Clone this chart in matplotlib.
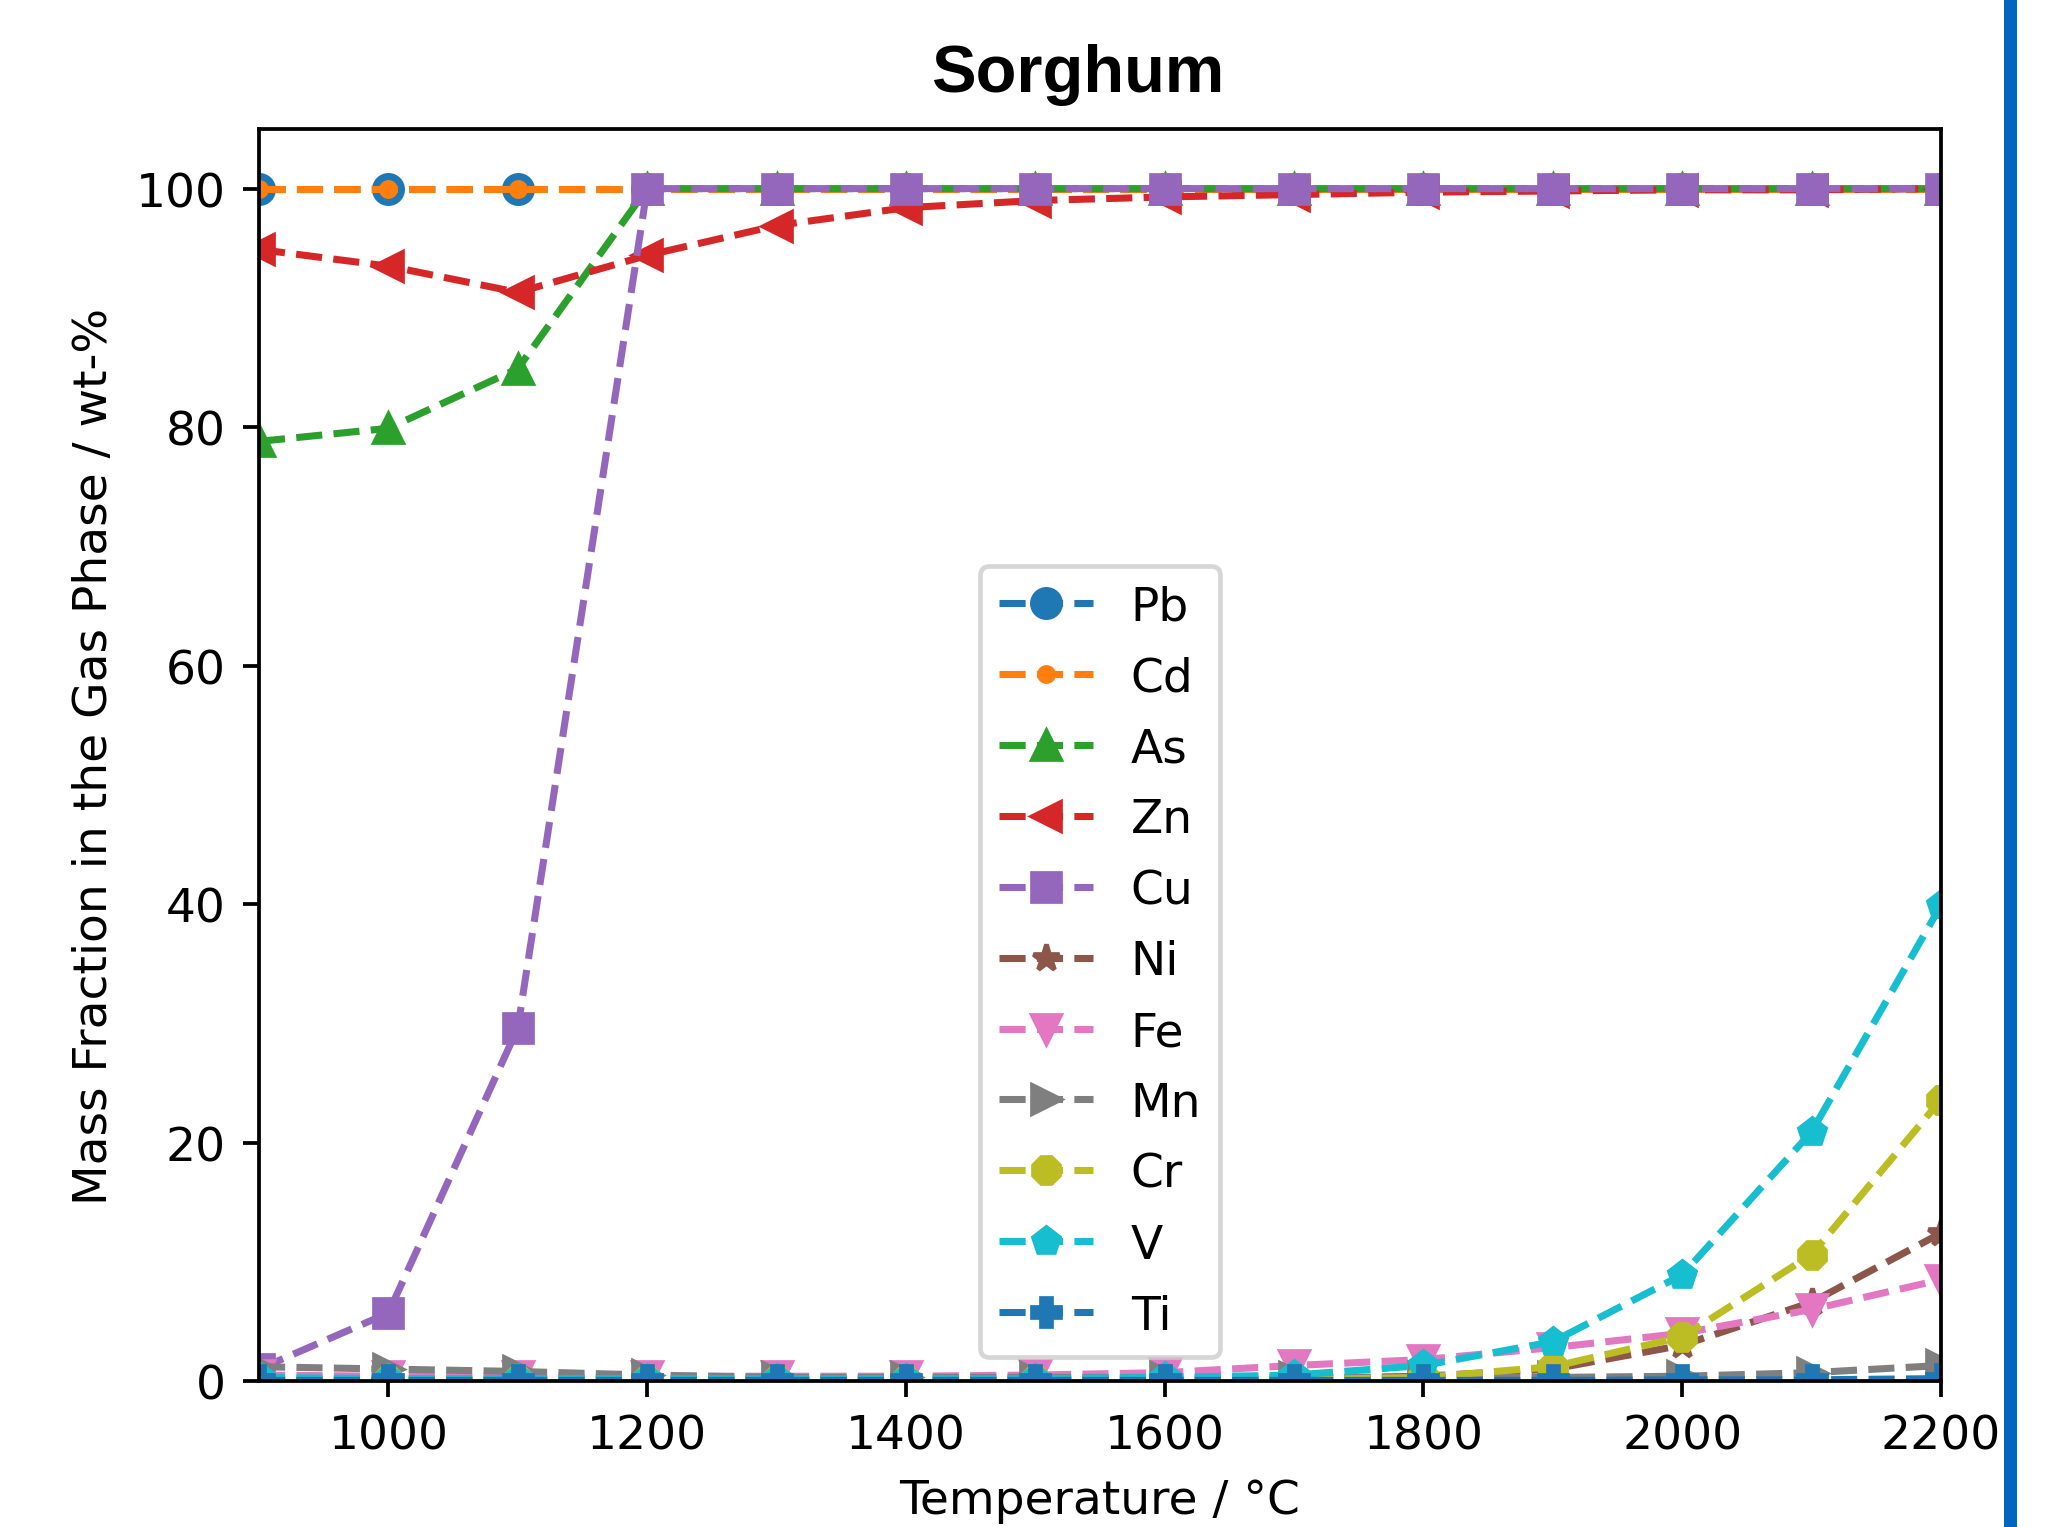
import matplotlib
matplotlib.use("Agg")
import matplotlib.pyplot as plt
from matplotlib.patches import Rectangle

temperature = [900, 1000, 1100, 1200, 1300, 1400, 1500, 1600, 1700, 1800, 1900, 2000, 2100, 2200]

pb = [100, 100, 100, 100, 100, 100, 100, 100, 100, 100, 100, 100, 100, 100]
cd = [100, 100, 100, 100, 100, 100, 100, 100, 100, 100, 100, 100, 100, 100]
as_ = [78.8, 79.9, 84.9, 100, 100, 100, 100, 100, 100, 100, 100, 100, 100, 100]
zn = [94.9, 93.5, 91.3, 94.4, 96.9, 98.4, 99.0, 99.3, 99.5, 99.7, 99.8, 99.9, 99.9, 100]
cu = [1.0, 5.7, 29.6, 100, 100, 100, 100, 100, 100, 100, 100, 100, 100, 100]
ni = [0.1, 0.1, 0.1, 0.1, 0.1, 0.1, 0.1, 0.1, 0.2, 0.4, 1.0, 3.0, 6.6, 12.4]
fe = [0.5, 0.4, 0.4, 0.4, 0.4, 0.4, 0.5, 0.7, 1.3, 1.8, 2.8, 4.0, 6.0, 8.5]
mn = [1.2, 1.0, 0.8, 0.5, 0.3, 0.3, 0.3, 0.3, 0.3, 0.3, 0.3, 0.4, 0.7, 1.3]
cr = [0.05, 0.05, 0.05, 0.05, 0.05, 0.05, 0.05, 0.05, 0.1, 0.3, 1.2, 3.7, 10.6, 23.6]
v = [0.3, 0.2, 0.2, 0.2, 0.2, 0.2, 0.2, 0.3, 0.5, 1.3, 3.3, 8.9, 20.9, 39.9]
ti = [0.05, 0.05, 0.05, 0.05, 0.05, 0.05, 0.05, 0.05, 0.05, 0.05, 0.05, 0.1, 0.1, 0.2]

labels = ["Pb", "Cd", "As", "Zn", "Cu", "Ni", "Fe", "Mn", "Cr", "V", "Ti"]
series = [pb, cd, as_, zn, cu, ni, fe, mn, cr, v, ti]
markers = ["o", ".", "^", "<", "s", "*", "v", ">", "8", "p", "P"]

DPI = 339
fig = plt.figure(figsize=(2045 / DPI, 1528 / DPI), dpi=DPI)
ax = fig.add_axes([259 / 2045, 1 - 1382 / 1528, (1941 - 259) / 2045, (1382 - 130) / 1528])

for lab, y, m in zip(labels, series, markers):
    ax.plot(temperature, y, linestyle="--", marker=m, label=lab)

ax.set_xlim(900, 2200)
ax.set_ylim(0, 105)
ax.set_xticks([1000, 1200, 1400, 1600, 1800, 2000, 2200])
ax.set_yticks([0, 20, 40, 60, 80, 100])
ax.set_xlabel("Temperature / °C")
ax.set_ylabel("Mass Fraction in the Gas Phase / wt-%")
ax.set_title("Sorghum", fontsize=14.2, fontweight="bold",
             family=["Liberation Sans", "DejaVu Sans"], x=0.487, pad=8)
ax.legend(loc="lower center", labelspacing=0.55)

fig.patches.append(Rectangle((2004 / 2045, 0), 13 / 2045, 1, transform=fig.transFigure,
                             facecolor="#0066c0", edgecolor="none"))

fig.savefig("out.png", dpi=DPI)
